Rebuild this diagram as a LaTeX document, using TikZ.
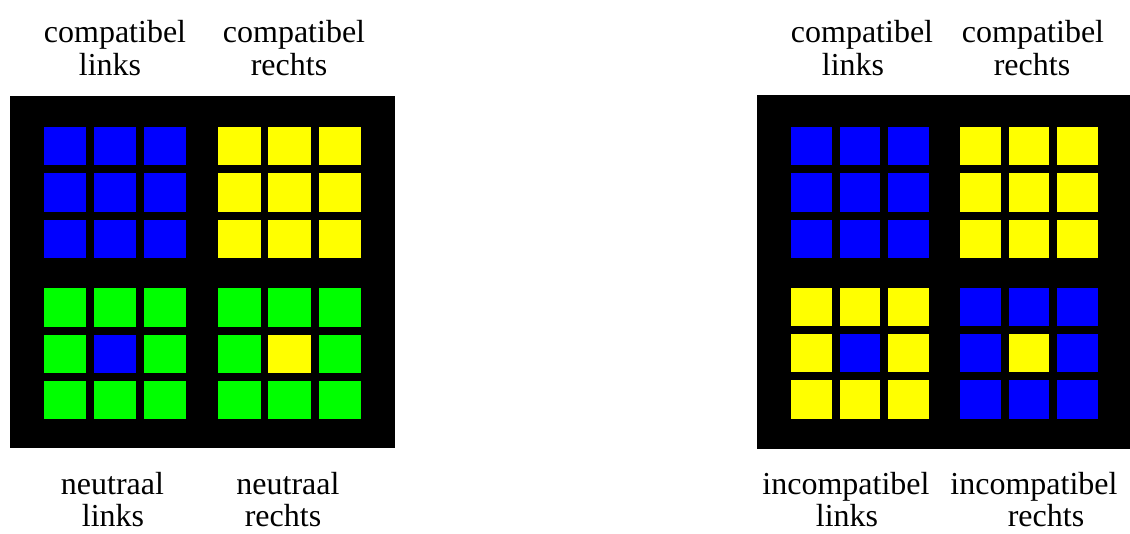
\documentclass[tikz,border=0pt]{standalone}
\usepackage{fontspec}
\setmainfont{Liberation Serif}
\definecolor{tileblue}{RGB}{0,0,255}
\definecolor{tileyellow}{RGB}{255,255,0}
\definecolor{tilegreen}{RGB}{0,255,0}

% 3x3 block of tiles: #1 left, #2 top, #3 column pitch, #4 tile width,
% #5 surrounding colour, #6 centre colour
\newcommand\tilegrid[6]{%
  \foreach \i in {0,1,2}{\foreach \j in {0,1,2}{%
    \ifnum\i=1 \ifnum\j=1 \def\tc{#6}\else\def\tc{#5}\fi\else\def\tc{#5}\fi
    \fill[\tc] ({#1+\i*#3},{#2+\j*46.3}) rectangle ++(#4,38.3);
  }}}

\begin{document}
\begin{tikzpicture}[x=1pt,y=-1pt,
  lbl/.style={anchor=base,inner sep=0pt,font=\fontsize{32}{38}\selectfont}]
\clip (0,0) rectangle (1130,533);

% left display: compatible and neutral stimuli
\fill[black] (10,96) rectangle (395,448);
\tilegrid{43.7}{127}{50.15}{42.3}{tileblue}{tileblue}
\tilegrid{218.3}{127}{50.15}{42.3}{tileyellow}{tileyellow}
\tilegrid{43.7}{288.3}{50.15}{42.3}{tilegreen}{tileblue}
\tilegrid{218.3}{288.3}{50.15}{42.3}{tilegreen}{tileyellow}

% right display: compatible and incompatible stimuli
\fill[black] (757,95) rectangle (1134,449);
\tilegrid{791}{127}{48.5}{40.8}{tileblue}{tileblue}
\tilegrid{960}{127}{48.5}{40.8}{tileyellow}{tileyellow}
\tilegrid{791}{287.7}{48.5}{40.8}{tileyellow}{tileblue}
\tilegrid{960}{287.7}{48.5}{40.8}{tileblue}{tileyellow}

% labels above the displays
\node[lbl] (cl1) at (115,42) {compatibel};
\node[lbl] (cl2) at (110,75) {links};
\node[lbl] (cr1) at (294,42) {compatibel};
\node[lbl] (cr2) at (289,75) {rechts};
\node[lbl] (Cl1) at (862,42) {compatibel};
\node[lbl] (Cl2) at (853,75) {links};
\node[lbl] (Cr1) at (1033,42) {compatibel};
\node[lbl] (Cr2) at (1032,75) {rechts};

% labels below the displays
\node[lbl] (nl1) at (112.5,494) {neutraal};
\node[lbl] (nl2) at (113,526.5) {links};
\node[lbl] (nr1) at (288,494) {neutraal};
\node[lbl] (nr2) at (283,526.5) {rechts};
\node[lbl] (il1) at (846,494) {incompatibel};
\node[lbl] (il2) at (847,526.5) {links};
\node[lbl] (ir1) at (1034,494) {incompatibel};
\node[lbl] (ir2) at (1046,526.5) {rechts};
\end{tikzpicture}
\end{document}
